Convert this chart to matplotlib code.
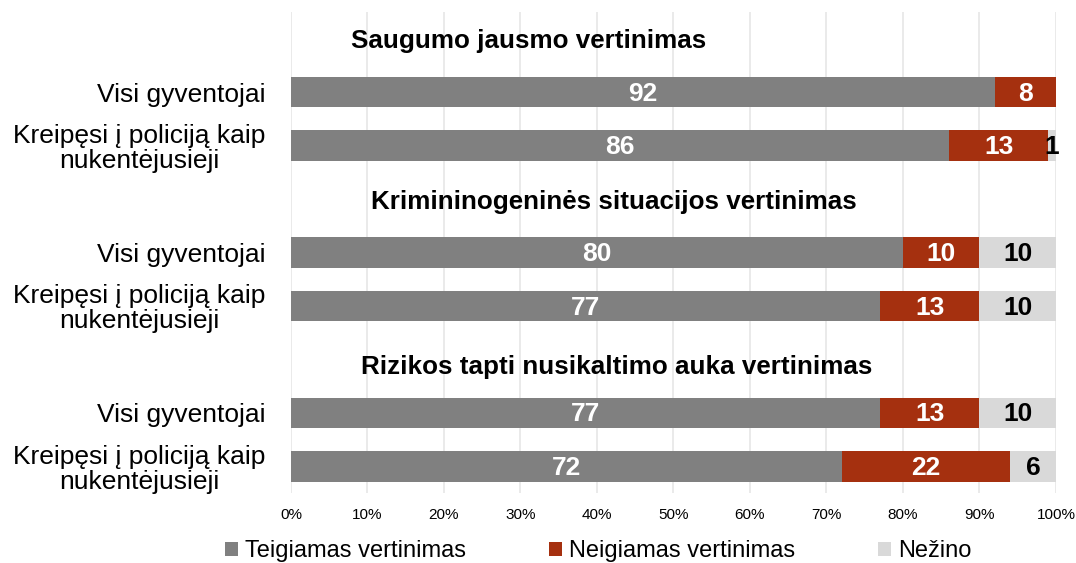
import matplotlib
matplotlib.use("Agg")
import matplotlib.pyplot as plt
import numpy as np

plt.rcParams['font.family'] = ['Liberation Sans', 'DejaVu Sans']

sections = ["Saugumo jausmo vertinimas",
            "Krimininogeninės situacijos vertinimas",
            "Rizikos tapti nusikaltimo auka vertinimas"]
groups = ["Visi gyventojai", "Kreipęsi į policiją kaip\nnukentėjusieji"]
series_names = ["Teigiamas vertinimas", "Neigiamas vertinimas", "Nežino"]
teigiamas = [92, 86, 80, 77, 77, 72]
neigiamas = [8, 13, 10, 13, 13, 22]
nezino = [0, 1, 10, 10, 10, 6]
colors = ["#808080", "#A5300F", "#D9D9D9"]
label_colors = ["white", "white", "black"]
title_x = [31.1, 42.2, 42.6]
title_dy = [0.05, 0.05, 0.15]

fig = plt.figure(figsize=(10.76, 5.63), dpi=100)
ax = fig.add_axes([0.2704, 0.1243, 0.7110, 0.8544])

n_rows = 9
ypos = []
title_y = []
for s in range(3):
    title_y.append(3 * s)
    ypos += [3 * s + 1, 3 * s + 2]
ypos = np.array(ypos)

data = [teigiamas, neigiamas, nezino]
left = np.zeros(len(ypos))
for k, vals in enumerate(data):
    vals = np.array(vals, dtype=float)
    ax.barh(ypos, vals, left=left, height=0.57, color=colors[k],
            label=series_names[k], zorder=3)
    for y, l, v in zip(ypos, left, vals):
        if v > 0:
            ax.text(l + v / 2, y + 0.03, f"{int(v)}", ha="center", va="center",
                    color=label_colors[k], fontsize=19, fontweight="bold", zorder=4)
    left += vals

for s, t in enumerate(sections):
    ax.text(title_x[s], title_y[s] + title_dy[s], t, ha="center", va="center",
            fontsize=18.7, fontweight="bold")

ax.set_ylim(n_rows - 0.5, -0.5)
ax.set_xlim(0, 100)
ax.set_yticks(ypos)
ax.set_yticklabels([groups[i % 2] for i in range(len(ypos))], fontsize=19)
ax.set_xticks(np.arange(0, 101, 10))
ax.set_xticklabels([f"{v}%" for v in range(0, 101, 10)], fontsize=11)
ax.tick_params(axis="y", length=0, pad=18.5)
ax.tick_params(axis="x", length=0, pad=11)
for lab in ax.get_yticklabels():
    lab.set_multialignment("center")
    lab.set_linespacing(1.05)
ax.grid(axis="x", color="#E6E6E6", linewidth=1.2, zorder=0)
for sp in ax.spines.values():
    sp.set_visible(False)

fig.legend(loc="lower left", bbox_to_anchor=(0.1896, -0.036), ncol=3,
           frameon=False, fontsize=17, handlelength=0.55, handleheight=0.55,
           handletextpad=0.3, columnspacing=3.5)

fig.savefig("out.png", dpi=100)
